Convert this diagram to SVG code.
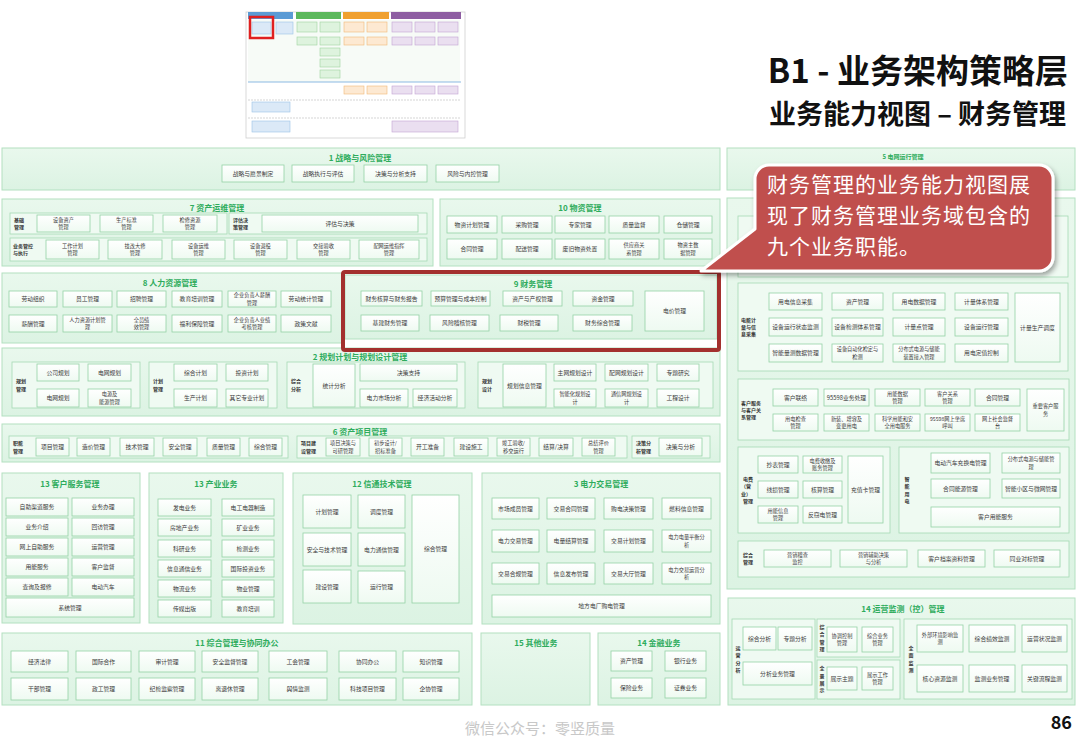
<svg xmlns="http://www.w3.org/2000/svg" width="1080" height="748" viewBox="0 0 1080 748">
<style>
text{font-family:"Noto Sans CJK SC","Noto Sans",sans-serif}
.pn{fill:url(#gp);stroke:#b3e0c0;stroke-width:1}
.sg{fill:#effaf2;stroke:#a6dab4;stroke-width:.8}
.bx{fill:url(#gb);stroke:#95d2a6;stroke-width:.8}
.t{font-size:5.8px;fill:#3a3a3a;text-anchor:middle}
.t2{font-size:5.2px}
.h{font-size:8px;font-weight:bold;fill:#2eac5c;text-anchor:middle}
.l{font-size:5px;font-weight:bold;fill:#333}
.lm{font-size:5px;font-weight:bold;fill:#333;text-anchor:middle}
.tb{stroke-width:.6}
.bt{font-size:21px;fill:#ffffff;letter-spacing:1px}
</style>
<defs>
<linearGradient id="gp" x1="0" y1="0" x2="0" y2="1"><stop offset="0" stop-color="#e9f8ed"/><stop offset="1" stop-color="#dcf3e3"/></linearGradient>
<linearGradient id="gb" x1="0" y1="0" x2="0" y2="1"><stop offset="0" stop-color="#ffffff"/><stop offset="1" stop-color="#eefaf1"/></linearGradient>
<filter id="sh" x="-10%" y="-10%" width="130%" height="140%"><feDropShadow dx="2" dy="3" stdDeviation="2.5" flood-color="#000" flood-opacity="0.35"/></filter>
</defs>
<rect width="1080" height="748" fill="#ffffff"/>

<g id="thumbnail">
<rect x="246" y="12" width="219" height="126" fill="#fff" stroke="#cfcfcf" stroke-width=".8"/>
<rect x="248" y="12" width="45" height="7" fill="#5b9bd5"/>
<rect x="296" y="12" width="45" height="7" fill="#5cb85c"/>
<rect x="343" y="12" width="46" height="7" fill="#f0a030"/>
<rect x="391" y="12" width="70" height="7" fill="#8e5ea2"/>
<rect x="248" y="20" width="212" height="62" fill="#f7fbf7"/>
<line x1="248" y1="82" x2="461" y2="82" stroke="#6fa8dc" stroke-width=".8"/>
<line x1="248" y1="100" x2="461" y2="100" stroke="#bbb" stroke-width=".6" stroke-dasharray="2 1"/>
<line x1="248" y1="118" x2="461" y2="118" stroke="#bbb" stroke-width=".6" stroke-dasharray="2 1"/>
<g class="tb" fill="#dbe9f7" stroke="#9cc3e6">
<rect x="252" y="22" width="19" height="12"/><rect x="276" y="22" width="17" height="12"/>
<rect x="252" y="102" width="38" height="10"/><rect x="252" y="121" width="38" height="11"/>
</g>
<g class="tb" fill="#def3de" stroke="#9fd49f">
<rect x="297" y="22" width="20" height="10"/><rect x="320" y="22" width="20" height="10"/>
<rect x="297" y="37" width="20" height="8"/><rect x="320" y="37" width="20" height="8"/>
<rect x="320" y="48" width="20" height="8"/><rect x="320" y="59" width="20" height="8"/><rect x="320" y="70" width="20" height="8"/>
</g>
<g class="tb" fill="#fde9d2" stroke="#f2b877">
<rect x="344" y="22" width="20" height="10"/><rect x="367" y="22" width="20" height="10"/>
<rect x="344" y="37" width="20" height="8"/><rect x="367" y="37" width="20" height="8"/>
<rect x="344" y="86" width="20" height="8"/><rect x="367" y="86" width="20" height="8"/>
</g>
<g class="tb" fill="#eadff0" stroke="#c2a4d3">
<rect x="392" y="22" width="20" height="10"/><rect x="415" y="22" width="20" height="10"/><rect x="438" y="22" width="20" height="10"/>
<rect x="392" y="37" width="20" height="8"/><rect x="415" y="37" width="20" height="8"/><rect x="438" y="37" width="20" height="8"/>
<rect x="392" y="86" width="20" height="8"/><rect x="415" y="86" width="20" height="8"/><rect x="438" y="86" width="20" height="8"/>
<rect x="392" y="121" width="66" height="11"/>
</g>
<rect x="250" y="17" width="23" height="21" fill="none" stroke="#e02020" stroke-width="2.5"/>
</g>

<g id="heading">
<text x="1068" y="83" text-anchor="end" font-size="33" font-weight="bold" fill="#111">B1 - 业务架构策略层</text>
<text x="1066" y="124" text-anchor="end" font-size="27" font-weight="bold" fill="#111">业务能力视图 – 财务管理</text>
</g>

<g id="p1">
<rect class="pn" x="2" y="148" width="718" height="42"/>
<text class="h" x="360" y="161">1 战略与风险管理</text>
<g id="p1-1"><rect class="bx" x="222" y="165" width="62" height="17"/><text class="t" x="253" y="175.6">战略与愿景制定</text></g>
<g id="p1-2"><rect class="bx" x="292" y="165" width="62" height="17"/><text class="t" x="323" y="175.6">战略执行与评估</text></g>
<g id="p1-3"><rect class="bx" x="364" y="165" width="63" height="17"/><text class="t" x="395.5" y="175.6">决策与分析支持</text></g>
<g id="p1-4"><rect class="bx" x="436" y="165" width="63" height="17"/><text class="t" x="467.5" y="175.6">风险与内控管理</text></g>
</g>

<g id="p7">
<rect class="pn" x="2" y="199" width="431" height="67"/>
<text class="h" x="217" y="211">7 资产运维管理</text>
<rect class="sg" x="10" y="213" width="217" height="21"/>
<text class="l" x="14" y="221.8">基础<tspan x="14" dy="7.3">管理</tspan></text>
<rect class="sg" x="229" y="213" width="198" height="21"/>
<text class="l" x="233" y="221.8">评估决<tspan x="233" dy="7.3">策管理</tspan></text>
<rect class="sg" x="10" y="238" width="417" height="23"/>
<text class="l" x="13" y="247.8">业务管控<tspan x="13" dy="7.3">与执行</tspan></text>
<g id="p7-1"><rect class="bx" x="37" y="215" width="53" height="17"/><text class="t t2" x="63.5" y="221.7">设备资产<tspan x="63.5" dy="7.5">管理</tspan></text></g>
<g id="p7-2"><rect class="bx" x="100" y="215" width="53" height="17"/><text class="t t2" x="126.5" y="221.7">生产标准<tspan x="126.5" dy="7.5">管理</tspan></text></g>
<g id="p7-3"><rect class="bx" x="163" y="215" width="54" height="17"/><text class="t t2" x="190" y="221.7">检修资源<tspan x="190" dy="7.5">管理</tspan></text></g>
<g id="p7-4"><rect class="bx" x="262" y="215" width="156" height="17"/><text class="t" x="340" y="225.6">评估与决策</text></g>
<g id="p7-5"><rect class="bx" x="46" y="240" width="53" height="19"/><text class="t t2" x="72.5" y="247.7">工作计划<tspan x="72.5" dy="7.5">管理</tspan></text></g>
<g id="p7-6"><rect class="bx" x="108" y="240" width="54" height="19"/><text class="t t2" x="135" y="247.7">技改大修<tspan x="135" dy="7.5">管理</tspan></text></g>
<g id="p7-7"><rect class="bx" x="172" y="240" width="53" height="19"/><text class="t t2" x="198.5" y="247.7">设备运维<tspan x="198.5" dy="7.5">管理</tspan></text></g>
<g id="p7-8"><rect class="bx" x="234" y="240" width="53" height="19"/><text class="t t2" x="260.5" y="247.7">设备退役<tspan x="260.5" dy="7.5">管理</tspan></text></g>
<g id="p7-9"><rect class="bx" x="297" y="240" width="53" height="19"/><text class="t t2" x="323.5" y="247.7">交接验收<tspan x="323.5" dy="7.5">管理</tspan></text></g>
<g id="p7-10"><rect class="bx" x="359" y="240" width="60" height="19"/><text class="t t2" x="389" y="247.7">配网运维指挥<tspan x="389" dy="7.5">管理</tspan></text></g>
</g>

<g id="p10">
<rect class="pn" x="440" y="199" width="280" height="67"/>
<text class="h" x="580" y="211">10 物资管理</text>
<g id="p10-1"><rect class="bx" x="447" y="216" width="50" height="17"/><text class="t" x="472" y="226.6">物资计划管理</text></g>
<g id="p10-2"><rect class="bx" x="502" y="216" width="50" height="17"/><text class="t" x="527" y="226.6">采购管理</text></g>
<g id="p10-3"><rect class="bx" x="555" y="216" width="50" height="17"/><text class="t" x="580" y="226.6">专家管理</text></g>
<g id="p10-4"><rect class="bx" x="609" y="216" width="50" height="17"/><text class="t" x="634" y="226.6">质量监督</text></g>
<g id="p10-5"><rect class="bx" x="664" y="216" width="48" height="17"/><text class="t" x="688" y="226.6">仓储管理</text></g>
<g id="p10-6"><rect class="bx" x="447" y="239" width="50" height="20"/><text class="t" x="472" y="251.1">合同管理</text></g>
<g id="p10-7"><rect class="bx" x="502" y="239" width="50" height="20"/><text class="t" x="527" y="251.1">配送管理</text></g>
<g id="p10-8"><rect class="bx" x="555" y="239" width="50" height="20"/><text class="t" x="580" y="251.1">废旧物资处置</text></g>
<g id="p10-9"><rect class="bx" x="609" y="239" width="50" height="20"/><text class="t t2" x="634" y="247.2">供应商关<tspan x="634" dy="7.5">系管理</tspan></text></g>
<g id="p10-10"><rect class="bx" x="664" y="239" width="48" height="20"/><text class="t t2" x="688" y="247.2">物资主数<tspan x="688" dy="7.5">据管理</tspan></text></g>
</g>

<g id="p8">
<rect class="pn" x="2" y="273" width="340" height="70"/>
<text class="h" x="170" y="286">8  人力资源管理</text>
<g id="p8-1"><rect class="bx" x="9" y="291" width="48" height="16"/><text class="t" x="33" y="301.1">劳动组织</text></g>
<g id="p8-2"><rect class="bx" x="63" y="291" width="49" height="16"/><text class="t" x="87.5" y="301.1">员工管理</text></g>
<g id="p8-3"><rect class="bx" x="117" y="291" width="49" height="16"/><text class="t" x="141.5" y="301.1">招聘管理</text></g>
<g id="p8-4"><rect class="bx" x="172" y="291" width="50" height="16"/><text class="t" x="197" y="301.1">教育培训管理</text></g>
<g id="p8-5"><rect class="bx" x="228" y="291" width="48" height="16"/><text class="t t2" x="252" y="297.2">企业负责人薪酬<tspan x="252" dy="7.5">管理</tspan></text></g>
<g id="p8-6"><rect class="bx" x="281" y="291" width="50" height="16"/><text class="t" x="306" y="301.1">劳动统计管理</text></g>
<g id="p8-7"><rect class="bx" x="9" y="315" width="48" height="17"/><text class="t" x="33" y="325.6">薪酬管理</text></g>
<g id="p8-8"><rect class="bx" x="63" y="315" width="49" height="17"/><text class="t t2" x="87.5" y="321.7">人力资源计划管<tspan x="87.5" dy="7.5">理</tspan></text></g>
<g id="p8-9"><rect class="bx" x="117" y="315" width="49" height="17"/><text class="t t2" x="141.5" y="321.7">全员绩<tspan x="141.5" dy="7.5">效管理</tspan></text></g>
<g id="p8-10"><rect class="bx" x="172" y="315" width="50" height="17"/><text class="t" x="197" y="325.6">福利保障管理</text></g>
<g id="p8-11"><rect class="bx" x="228" y="315" width="48" height="17"/><text class="t t2" x="252" y="321.7">企业负责人业绩<tspan x="252" dy="7.5">考核管理</tspan></text></g>
<g id="p8-12"><rect class="bx" x="281" y="315" width="50" height="17"/><text class="t" x="306" y="325.6">政策文献</text></g>
</g>

<g id="p2">
<rect class="pn" x="2" y="348" width="718" height="68"/>
<text class="h" x="360" y="360">2 规划计划与规划设计管理</text>
<rect class="sg" x="12" y="362" width="128" height="46"/>
<text class="l" x="16" y="383.3">规划<tspan x="16" dy="7.3">管理</tspan></text>
<rect class="sg" x="149" y="362" width="128" height="46"/>
<text class="l" x="153" y="383.3">计划<tspan x="153" dy="7.3">管理</tspan></text>
<rect class="sg" x="287" y="362" width="178" height="46"/>
<text class="l" x="291" y="383.3">综合<tspan x="291" dy="7.3">分析</tspan></text>
<rect class="sg" x="478" y="362" width="235" height="46"/>
<text class="l" x="482" y="383.3">规划<tspan x="482" dy="7.3">设计</tspan></text>
<g id="p2-1"><rect class="bx" x="37" y="364" width="42" height="17"/><text class="t" x="58" y="374.6">公司规划</text></g>
<g id="p2-2"><rect class="bx" x="88" y="364" width="43" height="17"/><text class="t" x="109.5" y="374.6">电网规划</text></g>
<g id="p2-3"><rect class="bx" x="37" y="389" width="42" height="18"/><text class="t" x="58" y="400.1">电网规划</text></g>
<g id="p2-4"><rect class="bx" x="88" y="389" width="43" height="18"/><text class="t t2" x="109.5" y="396.2">电源及<tspan x="109.5" dy="7.5">能源管理</tspan></text></g>
<g id="p2-5"><rect class="bx" x="174" y="364" width="43" height="17"/><text class="t" x="195.5" y="374.6">综合计划</text></g>
<g id="p2-6"><rect class="bx" x="226" y="364" width="42" height="17"/><text class="t" x="247" y="374.6">投资计划</text></g>
<g id="p2-7"><rect class="bx" x="174" y="389" width="43" height="18"/><text class="t" x="195.5" y="400.1">生产计划</text></g>
<g id="p2-8"><rect class="bx" x="226" y="389" width="42" height="18"/><text class="t" x="247" y="400.1">其它专业计划</text></g>
<g id="p2-9"><rect class="bx" x="313" y="364" width="42" height="43"/><text class="t" x="334" y="387.6">统计分析</text></g>
<g id="p2-10"><rect class="bx" x="360" y="364" width="97" height="17"/><text class="t" x="408.5" y="374.6">决策支持</text></g>
<g id="p2-11"><rect class="bx" x="360" y="389" width="48" height="18"/><text class="t" x="384" y="400.1">电力市场分析</text></g>
<g id="p2-12"><rect class="bx" x="413" y="389" width="44" height="18"/><text class="t" x="435" y="400.1">经济活动分析</text></g>
<g id="p2-13"><rect class="bx" x="503" y="364" width="43" height="43"/><text class="t" x="524.5" y="387.6">规划信息管理</text></g>
<g id="p2-14"><rect class="bx" x="554" y="364" width="42" height="17"/><text class="t" x="575" y="374.6">主网规划设计</text></g>
<g id="p2-15"><rect class="bx" x="605" y="364" width="43" height="17"/><text class="t" x="626.5" y="374.6">配网规划设计</text></g>
<g id="p2-16"><rect class="bx" x="657" y="364" width="42" height="17"/><text class="t" x="678" y="374.6">专题研究</text></g>
<g id="p2-17"><rect class="bx" x="554" y="389" width="42" height="18"/><text class="t t2" x="575" y="396.2">智能化规划设<tspan x="575" dy="7.5">计</tspan></text></g>
<g id="p2-18"><rect class="bx" x="605" y="389" width="43" height="18"/><text class="t t2" x="626.5" y="396.2">通信网规划设<tspan x="626.5" dy="7.5">计</tspan></text></g>
<g id="p2-19"><rect class="bx" x="657" y="389" width="42" height="18"/><text class="t" x="678" y="400.1">工程设计</text></g>
</g>

<g id="p6">
<rect class="pn" x="2" y="424" width="718" height="38"/>
<text class="h" x="360" y="435">6 资产项目管理</text>
<rect class="sg" x="9" y="436" width="279" height="22"/>
<text class="l" x="13" y="445.3">职能<tspan x="13" dy="7.3">管理</tspan></text>
<rect class="sg" x="297" y="436" width="330" height="22"/>
<text class="l" x="301" y="445.3">项目建<tspan x="301" dy="7.3">设管理</tspan></text>
<rect class="sg" x="632" y="436" width="78" height="22"/>
<text class="l" x="636" y="445.3">决策分<tspan x="636" dy="7.3">析管理</tspan></text>
<g id="p6-1"><rect class="bx" x="36" y="438" width="33" height="18"/><text class="t" x="52.5" y="449.1">项目管理</text></g>
<g id="p6-2"><rect class="bx" x="77" y="438" width="33" height="18"/><text class="t" x="93.5" y="449.1">造价管理</text></g>
<g id="p6-3"><rect class="bx" x="120" y="438" width="34" height="18"/><text class="t" x="137" y="449.1">技术管理</text></g>
<g id="p6-4"><rect class="bx" x="163" y="438" width="34" height="18"/><text class="t" x="180" y="449.1">安全管理</text></g>
<g id="p6-5"><rect class="bx" x="207" y="438" width="33" height="18"/><text class="t" x="223.5" y="449.1">质量管理</text></g>
<g id="p6-6"><rect class="bx" x="249" y="438" width="33" height="18"/><text class="t" x="265.5" y="449.1">综合管理</text></g>
<g id="p6-7"><rect class="bx" x="326" y="438" width="34" height="18"/><text class="t t2" x="343" y="445.2">项目决策与<tspan x="343" dy="7.5">可研管理</tspan></text></g>
<g id="p6-8"><rect class="bx" x="369" y="438" width="33" height="18"/><text class="t t2" x="385.5" y="445.2">初步设计/<tspan x="385.5" dy="7.5">招标准备</tspan></text></g>
<g id="p6-9"><rect class="bx" x="411" y="438" width="33" height="18"/><text class="t" x="427.5" y="449.1">开工准备</text></g>
<g id="p6-10"><rect class="bx" x="454" y="438" width="34" height="18"/><text class="t" x="471" y="449.1">建设施工</text></g>
<g id="p6-11"><rect class="bx" x="497" y="438" width="33" height="18"/><text class="t t2" x="513.5" y="445.2">竣工验收/<tspan x="513.5" dy="7.5">移交运行</tspan></text></g>
<g id="p6-12"><rect class="bx" x="539" y="438" width="34" height="18"/><text class="t" x="556" y="449.1">结算/决算</text></g>
<g id="p6-13"><rect class="bx" x="582" y="438" width="33" height="18"/><text class="t t2" x="598.5" y="445.2">总结评价<tspan x="598.5" dy="7.5">管理</tspan></text></g>
<g id="p6-14"><rect class="bx" x="659" y="438" width="43" height="18"/><text class="t" x="680.5" y="449.1">决策与分析</text></g>
</g>

<g id="p13a">
<rect class="pn" x="2" y="473" width="138" height="150"/>
<text class="h" x="70" y="487">13 客户服务管理</text>
<g id="p13a-1"><rect class="bx" x="6" y="498" width="62" height="18"/><text class="t" x="37" y="509.1">自助渠道服务</text></g>
<g id="p13a-2"><rect class="bx" x="72" y="498" width="62" height="18"/><text class="t" x="103" y="509.1">业务办理</text></g>
<g id="p13a-3"><rect class="bx" x="6" y="518" width="62" height="18"/><text class="t" x="37" y="529.1">业务介绍</text></g>
<g id="p13a-4"><rect class="bx" x="72" y="518" width="62" height="18"/><text class="t" x="103" y="529.1">回访管理</text></g>
<g id="p13a-5"><rect class="bx" x="6" y="538" width="62" height="18"/><text class="t" x="37" y="549.1">网上自助服务</text></g>
<g id="p13a-6"><rect class="bx" x="72" y="538" width="62" height="18"/><text class="t" x="103" y="549.1">运营管理</text></g>
<g id="p13a-7"><rect class="bx" x="6" y="558" width="62" height="18"/><text class="t" x="37" y="569.1">用能服务</text></g>
<g id="p13a-8"><rect class="bx" x="72" y="558" width="62" height="18"/><text class="t" x="103" y="569.1">客户监督</text></g>
<g id="p13a-9"><rect class="bx" x="6" y="578" width="62" height="18"/><text class="t" x="37" y="589.1">查询及报修</text></g>
<g id="p13a-10"><rect class="bx" x="72" y="578" width="62" height="18"/><text class="t" x="103" y="589.1">电动汽车</text></g>
<g id="p13a-11"><rect class="bx" x="6" y="598" width="128" height="19"/><text class="t" x="70" y="609.6">系统管理</text></g>
</g>

<g id="p13b">
<rect class="pn" x="149" y="473" width="134" height="150"/>
<text class="h" x="216" y="487">13 产业业务</text>
<g id="p13b-1"><rect class="bx" x="158" y="499" width="53" height="17"/><text class="t" x="184.5" y="509.6">发电业务</text></g>
<g id="p13b-2"><rect class="bx" x="222" y="499" width="52" height="17"/><text class="t" x="248" y="509.6">电工电器制造</text></g>
<g id="p13b-3"><rect class="bx" x="158" y="519" width="53" height="17"/><text class="t" x="184.5" y="529.6">房地产业务</text></g>
<g id="p13b-4"><rect class="bx" x="222" y="519" width="52" height="17"/><text class="t" x="248" y="529.6">矿业业务</text></g>
<g id="p13b-5"><rect class="bx" x="158" y="540" width="53" height="17"/><text class="t" x="184.5" y="550.6">科研业务</text></g>
<g id="p13b-6"><rect class="bx" x="222" y="540" width="52" height="17"/><text class="t" x="248" y="550.6">检测业务</text></g>
<g id="p13b-7"><rect class="bx" x="158" y="560" width="53" height="17"/><text class="t" x="184.5" y="570.6">信息通信业务</text></g>
<g id="p13b-8"><rect class="bx" x="222" y="560" width="52" height="17"/><text class="t" x="248" y="570.6">国际投资业务</text></g>
<g id="p13b-9"><rect class="bx" x="158" y="580" width="53" height="17"/><text class="t" x="184.5" y="590.6">物流业务</text></g>
<g id="p13b-10"><rect class="bx" x="222" y="580" width="52" height="17"/><text class="t" x="248" y="590.6">物业管理</text></g>
<g id="p13b-11"><rect class="bx" x="158" y="600" width="53" height="17"/><text class="t" x="184.5" y="610.6">传媒出版</text></g>
<g id="p13b-12"><rect class="bx" x="222" y="600" width="52" height="17"/><text class="t" x="248" y="610.6">教育培训</text></g>
</g>

<g id="p12">
<rect class="pn" x="293" y="473" width="179" height="151"/>
<text class="h" x="382" y="487">12 信通技术管理</text>
<g id="p12-1"><rect class="bx" x="303" y="495" width="48" height="33"/><text class="t" x="327" y="513.6">计划管理</text></g>
<g id="p12-2"><rect class="bx" x="358" y="495" width="47" height="33"/><text class="t" x="381.5" y="513.6">调度管理</text></g>
<g id="p12-3"><rect class="bx" x="303" y="533" width="48" height="33"/><text class="t" x="327" y="551.6">安全与技术管理</text></g>
<g id="p12-4"><rect class="bx" x="358" y="533" width="47" height="33"/><text class="t" x="381.5" y="551.6">电力通信管理</text></g>
<g id="p12-5"><rect class="bx" x="303" y="570" width="48" height="33"/><text class="t" x="327" y="588.6">建设管理</text></g>
<g id="p12-6"><rect class="bx" x="358" y="571" width="47" height="32"/><text class="t" x="381.5" y="589.1">运行管理</text></g>
<g id="p12-7"><rect class="bx" x="412" y="495" width="47" height="108"/><text class="t" x="435.5" y="551.1">综合管理</text></g>
</g>

<g id="p3">
<rect class="pn" x="482" y="473" width="238" height="151"/>
<text class="h" x="601" y="487">3 电力交易管理</text>
<g id="p3-1"><rect class="bx" x="492" y="498" width="47" height="21"/><text class="t" x="515.5" y="510.6">市场成员管理</text></g>
<g id="p3-2"><rect class="bx" x="547" y="498" width="48" height="21"/><text class="t" x="571" y="510.6">交易合同管理</text></g>
<g id="p3-3"><rect class="bx" x="604" y="498" width="49" height="21"/><text class="t" x="628.5" y="510.6">购电决策管理</text></g>
<g id="p3-4"><rect class="bx" x="662" y="498" width="49" height="21"/><text class="t" x="686.5" y="510.6">燃料信息管理</text></g>
<g id="p3-5"><rect class="bx" x="492" y="530" width="47" height="22"/><text class="t" x="515.5" y="543.1">电力交易管理</text></g>
<g id="p3-6"><rect class="bx" x="547" y="530" width="48" height="22"/><text class="t" x="571" y="543.1">电量结算管理</text></g>
<g id="p3-7"><rect class="bx" x="604" y="530" width="49" height="22"/><text class="t" x="628.5" y="543.1">交易计划管理</text></g>
<g id="p3-8"><rect class="bx" x="662" y="530" width="49" height="22"/><text class="t t2" x="686.5" y="539.2">电力电量平衡分<tspan x="686.5" dy="7.5">析</tspan></text></g>
<g id="p3-9"><rect class="bx" x="492" y="563" width="47" height="21"/><text class="t" x="515.5" y="575.6">交易合规管理</text></g>
<g id="p3-10"><rect class="bx" x="547" y="563" width="48" height="21"/><text class="t" x="571" y="575.6">信息发布管理</text></g>
<g id="p3-11"><rect class="bx" x="604" y="563" width="49" height="21"/><text class="t" x="628.5" y="575.6">交易大厅管理</text></g>
<g id="p3-12"><rect class="bx" x="662" y="563" width="49" height="21"/><text class="t t2" x="686.5" y="571.7">电力交易运营分<tspan x="686.5" dy="7.5">析</tspan></text></g>
<g id="p3-13"><rect class="bx" x="492" y="595" width="219" height="22"/><text class="t" x="601.5" y="608.1">地方电厂购电管理</text></g>
</g>

<g id="p11">
<rect class="pn" x="2" y="633" width="470" height="72"/>
<text class="h" x="237" y="646">11 综合管理与协同办公</text>
<g id="p11-1"><rect class="bx" x="11" y="651" width="57" height="21"/><text class="t" x="39.5" y="663.6">经济法律</text></g>
<g id="p11-2"><rect class="bx" x="76" y="651" width="55" height="21"/><text class="t" x="103.5" y="663.6">国际合作</text></g>
<g id="p11-3"><rect class="bx" x="139" y="651" width="56" height="21"/><text class="t" x="167" y="663.6">审计管理</text></g>
<g id="p11-4"><rect class="bx" x="202" y="651" width="56" height="21"/><text class="t" x="230" y="663.6">安全监督管理</text></g>
<g id="p11-5"><rect class="bx" x="269" y="651" width="58" height="21"/><text class="t" x="298" y="663.6">工会管理</text></g>
<g id="p11-6"><rect class="bx" x="339" y="651" width="57" height="21"/><text class="t" x="367.5" y="663.6">协同办公</text></g>
<g id="p11-7"><rect class="bx" x="403" y="651" width="56" height="21"/><text class="t" x="431" y="663.6">知识管理</text></g>
<g id="p11-8"><rect class="bx" x="11" y="678" width="57" height="22"/><text class="t" x="39.5" y="691.1">干部管理</text></g>
<g id="p11-9"><rect class="bx" x="76" y="678" width="55" height="22"/><text class="t" x="103.5" y="691.1">政工管理</text></g>
<g id="p11-10"><rect class="bx" x="139" y="678" width="56" height="22"/><text class="t" x="167" y="691.1">纪检监察管理</text></g>
<g id="p11-11"><rect class="bx" x="202" y="678" width="56" height="22"/><text class="t" x="230" y="691.1">离退休管理</text></g>
<g id="p11-12"><rect class="bx" x="269" y="678" width="58" height="22"/><text class="t" x="298" y="691.1">舆情监测</text></g>
<g id="p11-13"><rect class="bx" x="339" y="678" width="57" height="22"/><text class="t" x="367.5" y="691.1">科技项目管理</text></g>
<g id="p11-14"><rect class="bx" x="403" y="678" width="56" height="22"/><text class="t" x="431" y="691.1">企协管理</text></g>
</g>

<g id="p15">
<rect class="pn" x="481" y="633" width="109" height="72"/>
<text class="h" x="536" y="646">15 其他业务</text>
</g>

<g id="p14f">
<rect class="pn" x="598" y="633" width="122" height="72"/>
<text class="h" x="659" y="646">14 金融业务</text>
<g id="p14f-1"><rect class="bx" x="611" y="651" width="41" height="20"/><text class="t" x="631.5" y="663.1">资产管理</text></g>
<g id="p14f-2"><rect class="bx" x="665" y="651" width="41" height="20"/><text class="t" x="685.5" y="663.1">银行业务</text></g>
<g id="p14f-3"><rect class="bx" x="611" y="678" width="41" height="20"/><text class="t" x="631.5" y="690.1">保险业务</text></g>
<g id="p14f-4"><rect class="bx" x="665" y="678" width="41" height="20"/><text class="t" x="685.5" y="690.1">证券业务</text></g>
</g>

<g id="p5">
<rect class="pn" x="727" y="148" width="348" height="42"/>
<text class="h" x="903" y="159" style="font-size:6px">5 电网运行管理</text>
</g>

<g id="p4">
<rect class="pn" x="727" y="198" width="348" height="391"/>
<rect class="sg" x="738" y="216" width="330" height="61"/>
<rect class="sg" x="738" y="283" width="330" height="88"/>
<text class="l" x="741" y="321.6">电能计<tspan x="741" dy="7.3">量与信</tspan><tspan x="741" dy="7.3">息采集</tspan></text>
<g id="p4-1"><rect class="bx" x="769" y="293" width="53" height="17"/><text class="t" x="795.5" y="303.6">用电信息采集</text></g>
<g id="p4-2"><rect class="bx" x="832" y="293" width="51" height="17"/><text class="t" x="857.5" y="303.6">资产管理</text></g>
<g id="p4-3"><rect class="bx" x="893" y="293" width="52" height="17"/><text class="t" x="919" y="303.6">用电数据管理</text></g>
<g id="p4-4"><rect class="bx" x="955" y="293" width="53" height="17"/><text class="t" x="981.5" y="303.6">计量体系管理</text></g>
<g id="p4-5"><rect class="bx" x="769" y="318" width="53" height="18"/><text class="t" x="795.5" y="329.1">设备运行状态监测</text></g>
<g id="p4-6"><rect class="bx" x="832" y="318" width="51" height="18"/><text class="t" x="857.5" y="329.1">设备检测体系管理</text></g>
<g id="p4-7"><rect class="bx" x="893" y="318" width="52" height="18"/><text class="t" x="919" y="329.1">计量点管理</text></g>
<g id="p4-8"><rect class="bx" x="955" y="318" width="53" height="18"/><text class="t" x="981.5" y="329.1">设备运行管理</text></g>
<g id="p4-9"><rect class="bx" x="769" y="344" width="53" height="18"/><text class="t" x="795.5" y="355.1">智能量测数据管理</text></g>
<g id="p4-10"><rect class="bx" x="832" y="344" width="51" height="18"/><text class="t t2" x="857.5" y="351.2">设备自动化检定与<tspan x="857.5" dy="7.5">检测</tspan></text></g>
<g id="p4-11"><rect class="bx" x="893" y="344" width="52" height="18"/><text class="t t2" x="919" y="351.2">分布式电源与储能<tspan x="919" dy="7.5">装置接入管理</tspan></text></g>
<g id="p4-12"><rect class="bx" x="955" y="344" width="53" height="18"/><text class="t" x="981.5" y="355.1">用电定值控制</text></g>
<g id="p4-13"><rect class="bx" x="1015" y="293" width="45" height="69"/><text class="t" x="1037.5" y="329.6">计量生产调度</text></g>

<rect class="sg" x="738" y="379" width="331" height="61"/>
<text class="l" x="741" y="404.6">客户服务<tspan x="741" dy="7.3">与客户关</tspan><tspan x="741" dy="7.3">系管理</tspan></text>
<g id="p4-14"><rect class="bx" x="773" y="389" width="45" height="17"/><text class="t" x="795.5" y="399.6">客户联络</text></g>
<g id="p4-15"><rect class="bx" x="824" y="389" width="45" height="17"/><text class="t" x="846.5" y="399.6">95598业务处理</text></g>
<g id="p4-16"><rect class="bx" x="875" y="389" width="45" height="17"/><text class="t t2" x="897.5" y="395.7">用能数据<tspan x="897.5" dy="7.5">管理</tspan></text></g>
<g id="p4-17"><rect class="bx" x="925" y="389" width="45" height="17"/><text class="t t2" x="947.5" y="395.7">客户关系<tspan x="947.5" dy="7.5">管理</tspan></text></g>
<g id="p4-18"><rect class="bx" x="975" y="389" width="45" height="17"/><text class="t" x="997.5" y="399.6">合同管理</text></g>
<g id="p4-19"><rect class="bx" x="773" y="414" width="45" height="17"/><text class="t t2" x="795.5" y="420.7">用电检查<tspan x="795.5" dy="7.5">管理</tspan></text></g>
<g id="p4-20"><rect class="bx" x="824" y="414" width="45" height="17"/><text class="t t2" x="846.5" y="420.7">新装、增容及<tspan x="846.5" dy="7.5">变更用电</tspan></text></g>
<g id="p4-21"><rect class="bx" x="875" y="414" width="45" height="17"/><text class="t t2" x="897.5" y="420.7">科学用能和安<tspan x="897.5" dy="7.5">全用电服务</tspan></text></g>
<g id="p4-22"><rect class="bx" x="925" y="414" width="45" height="17"/><text class="t t2" x="947.5" y="420.7">95598网上坐席<tspan x="947.5" dy="7.5">呼叫</tspan></text></g>
<g id="p4-23"><rect class="bx" x="975" y="414" width="45" height="17"/><text class="t t2" x="997.5" y="420.7">网上社会监督<tspan x="997.5" dy="7.5">台</tspan></text></g>
<g id="p4-24"><rect class="bx" x="1027" y="389" width="37" height="42"/><text class="t t2" x="1045.5" y="408.2">重要客户服<tspan x="1045.5" dy="7.5">务</tspan></text></g>

<rect class="sg" x="738" y="447" width="152" height="86"/>
<text class="l" x="743" y="480.9">电费<tspan x="741" dy="7.3">（营</tspan><tspan x="741" dy="7.3">业）</tspan><tspan x="743" dy="7.3">管理</tspan></text>
<g id="p4-25"><rect class="bx" x="758" y="456" width="40" height="17"/><text class="t" x="778" y="466.6">抄表管理</text></g>
<g id="p4-26"><rect class="bx" x="803" y="456" width="39" height="17"/><text class="t t2" x="822.5" y="462.7">电费收缴及<tspan x="822.5" dy="7.5">账务管理</tspan></text></g>
<g id="p4-27"><rect class="bx" x="758" y="481" width="40" height="17"/><text class="t" x="778" y="491.6">线损管理</text></g>
<g id="p4-28"><rect class="bx" x="803" y="481" width="39" height="17"/><text class="t" x="822.5" y="491.6">核算管理</text></g>
<g id="p4-29"><rect class="bx" x="758" y="506" width="40" height="17"/><text class="t t2" x="778" y="512.7">用能信息<tspan x="778" dy="7.5">管理</tspan></text></g>
<g id="p4-30"><rect class="bx" x="803" y="506" width="39" height="17"/><text class="t" x="822.5" y="516.6">反窃电管理</text></g>
<g id="p4-31"><rect class="bx" x="848" y="456" width="35" height="67"/><text class="t" x="865.5" y="491.6">充值卡管理</text></g>

<rect class="sg" x="899" y="447" width="170" height="86"/>
<text class="lm" x="907" y="480.9">智<tspan x="907" dy="7.3">能</tspan><tspan x="907" dy="7.3">用</tspan><tspan x="907" dy="7.3">电</tspan></text>
<g id="p4-32"><rect class="bx" x="931" y="453" width="59" height="20"/><text class="t" x="960.5" y="465.1">电动汽车充换电管理</text></g>
<g id="p4-33"><rect class="bx" x="1002" y="453" width="58" height="20"/><text class="t t2" x="1031" y="461.2">分布式电源与储能管<tspan x="1031" dy="7.5">理</tspan></text></g>
<g id="p4-34"><rect class="bx" x="931" y="479" width="59" height="19"/><text class="t" x="960.5" y="490.6">合同能源管理</text></g>
<g id="p4-35"><rect class="bx" x="1002" y="479" width="58" height="19"/><text class="t" x="1031" y="490.6">智能小区与微网管理</text></g>
<g id="p4-36"><rect class="bx" x="931" y="507" width="129" height="20"/><text class="t" x="995.5" y="519.1">客户用能服务</text></g>

<rect class="sg" x="738" y="541" width="331" height="36"/>
<text class="l" x="743" y="556.8">综合<tspan x="743" dy="7.3">管理</tspan></text>
<g id="p4-37"><rect class="bx" x="764" y="550" width="67" height="17"/><text class="t t2" x="797.5" y="556.7">营销稽查<tspan x="797.5" dy="7.5">监控</tspan></text></g>
<g id="p4-38"><rect class="bx" x="840" y="550" width="67" height="17"/><text class="t t2" x="873.5" y="556.7">营销辅助决策<tspan x="873.5" dy="7.5">与分析</tspan></text></g>
<g id="p4-39"><rect class="bx" x="918" y="550" width="67" height="17"/><text class="t" x="951.5" y="560.6">客户档案资料管理</text></g>
<g id="p4-40"><rect class="bx" x="994" y="550" width="66" height="17"/><text class="t" x="1027" y="560.6">同业对标管理</text></g>
</g>

<g id="p14">
<rect class="pn" x="728" y="598" width="347" height="107"/>
<text class="h" x="903" y="612">14 运营监测（控）管理</text>
<rect class="sg" x="732" y="619" width="83" height="80"/>
<text class="lm" x="738" y="649.9">运<tspan x="738" dy="7.3">营</tspan><tspan x="738" dy="7.3">分</tspan><tspan x="738" dy="7.3">析</tspan></text>
<rect class="sg" x="817" y="619" width="83" height="38"/>
<text class="lm" x="822" y="628.9">综<tspan x="822" dy="7.3">合</tspan><tspan x="822" dy="7.3">管</tspan><tspan x="822" dy="7.3">理</tspan></text>
<rect class="sg" x="817" y="660" width="83" height="39"/>
<text class="lm" x="822" y="670.4">全<tspan x="822" dy="7.3">景</tspan><tspan x="822" dy="7.3">展</tspan><tspan x="822" dy="7.3">示</tspan></text>
<rect class="sg" x="904" y="619" width="168" height="80"/>
<text class="lm" x="911" y="649.9">全<tspan x="911" dy="7.3">面</tspan><tspan x="911" dy="7.3">监</tspan><tspan x="911" dy="7.3">测</tspan></text>
<g id="p14-1"><rect class="bx" x="743" y="627" width="33" height="23"/><text class="t" x="759.5" y="640.6">综合分析</text></g>
<g id="p14-2"><rect class="bx" x="778" y="627" width="34" height="23"/><text class="t" x="795" y="640.6">专题分析</text></g>
<g id="p14-3"><rect class="bx" x="743" y="662" width="69" height="23"/><text class="t" x="777.5" y="675.6">分析业务管理</text></g>
<g id="p14-4"><rect class="bx" x="827" y="627" width="30" height="25"/><text class="t t2" x="842" y="637.7">协调控制<tspan x="842" dy="7.5">管理</tspan></text></g>
<g id="p14-5"><rect class="bx" x="862" y="627" width="31" height="25"/><text class="t t2" x="877.5" y="637.7">综合业务<tspan x="877.5" dy="7.5">管理</tspan></text></g>
<g id="p14-6"><rect class="bx" x="827" y="667" width="30" height="23"/><text class="t" x="842" y="680.6">展示主题</text></g>
<g id="p14-7"><rect class="bx" x="862" y="667" width="31" height="23"/><text class="t t2" x="877.5" y="676.7">展示工作<tspan x="877.5" dy="7.5">管理</tspan></text></g>
<g id="p14-8"><rect class="bx" x="917" y="625" width="46" height="27"/><text class="t t2" x="940" y="636.7">外部环境影响监<tspan x="940" dy="7.5">测</tspan></text></g>
<g id="p14-9"><rect class="bx" x="969" y="625" width="46" height="27"/><text class="t" x="992" y="640.6">综合绩效监测</text></g>
<g id="p14-10"><rect class="bx" x="1022" y="625" width="45" height="27"/><text class="t" x="1044.5" y="640.6">运营状况监测</text></g>
<g id="p14-11"><rect class="bx" x="917" y="665" width="46" height="27"/><text class="t" x="940" y="680.6">核心资源监测</text></g>
<g id="p14-12"><rect class="bx" x="969" y="665" width="46" height="27"/><text class="t" x="992" y="680.6">监测业务管理</text></g>
<g id="p14-13"><rect class="bx" x="1022" y="665" width="45" height="27"/><text class="t" x="1044.5" y="680.6">关键流程监测</text></g>
</g>

<g id="p9">
<rect x="345" y="275" width="372" height="72" fill="#ffffff"/>
<rect class="pn" x="345" y="275" width="372" height="64"/>
<text class="h" x="533" y="287">9 财务管理</text>
<g id="p9-1"><rect class="bx" x="361" y="291" width="61" height="15"/><text class="t" x="391.5" y="300.6">财务核算与财务报告</text></g>
<g id="p9-2"><rect class="bx" x="431" y="291" width="59" height="15"/><text class="t" x="460.5" y="300.6">预算管理与成本控制</text></g>
<g id="p9-3"><rect class="bx" x="503" y="291" width="59" height="15"/><text class="t" x="532.5" y="300.6">资产与产权管理</text></g>
<g id="p9-4"><rect class="bx" x="573" y="291" width="60" height="15"/><text class="t" x="603" y="300.6">资金管理</text></g>
<g id="p9-5"><rect class="bx" x="645" y="291" width="59" height="40"/><text class="t" x="674.5" y="313.1">电价管理</text></g>
<g id="p9-6"><rect class="bx" x="361" y="315" width="58" height="16"/><text class="t" x="390" y="325.1">基建财务管理</text></g>
<g id="p9-7"><rect class="bx" x="430" y="315" width="59" height="16"/><text class="t" x="459.5" y="325.1">风险稽核管理</text></g>
<g id="p9-8"><rect class="bx" x="500" y="315" width="58" height="16"/><text class="t" x="529" y="325.1">财税管理</text></g>
<g id="p9-9"><rect class="bx" x="573" y="315" width="59" height="16"/><text class="t" x="602.5" y="325.1">财务综合管理</text></g>
<rect x="343" y="272" width="376" height="78" rx="2" fill="none" stroke="#a3302e" stroke-width="4"/>
</g>

<g id="callout">
<path d="M769,165 H1039 A14,14 0 0 1 1053,179 V257 A14,14 0 0 1 1039,271 H790 L701,271 L755,229 V179 A14,14 0 0 1 769,165 Z" fill="#c0504d" stroke="#ffffff" stroke-width="3" stroke-linejoin="round" filter="url(#sh)"/>
<text class="bt" x="767" y="192">财务管理的业务能力视图展</text>
<text class="bt" x="767" y="223">现了财务管理业务域包含的</text>
<text class="bt" x="767" y="254">九个业务职能。</text>
</g>

<g id="footer">
<text x="540" y="734" text-anchor="middle" font-size="15" fill="#c8c8c8">微信公众号：零竖质量</text>
<text x="1072" y="729" text-anchor="end" font-size="18" font-weight="bold" fill="#111">86</text>
</g>
</svg>
